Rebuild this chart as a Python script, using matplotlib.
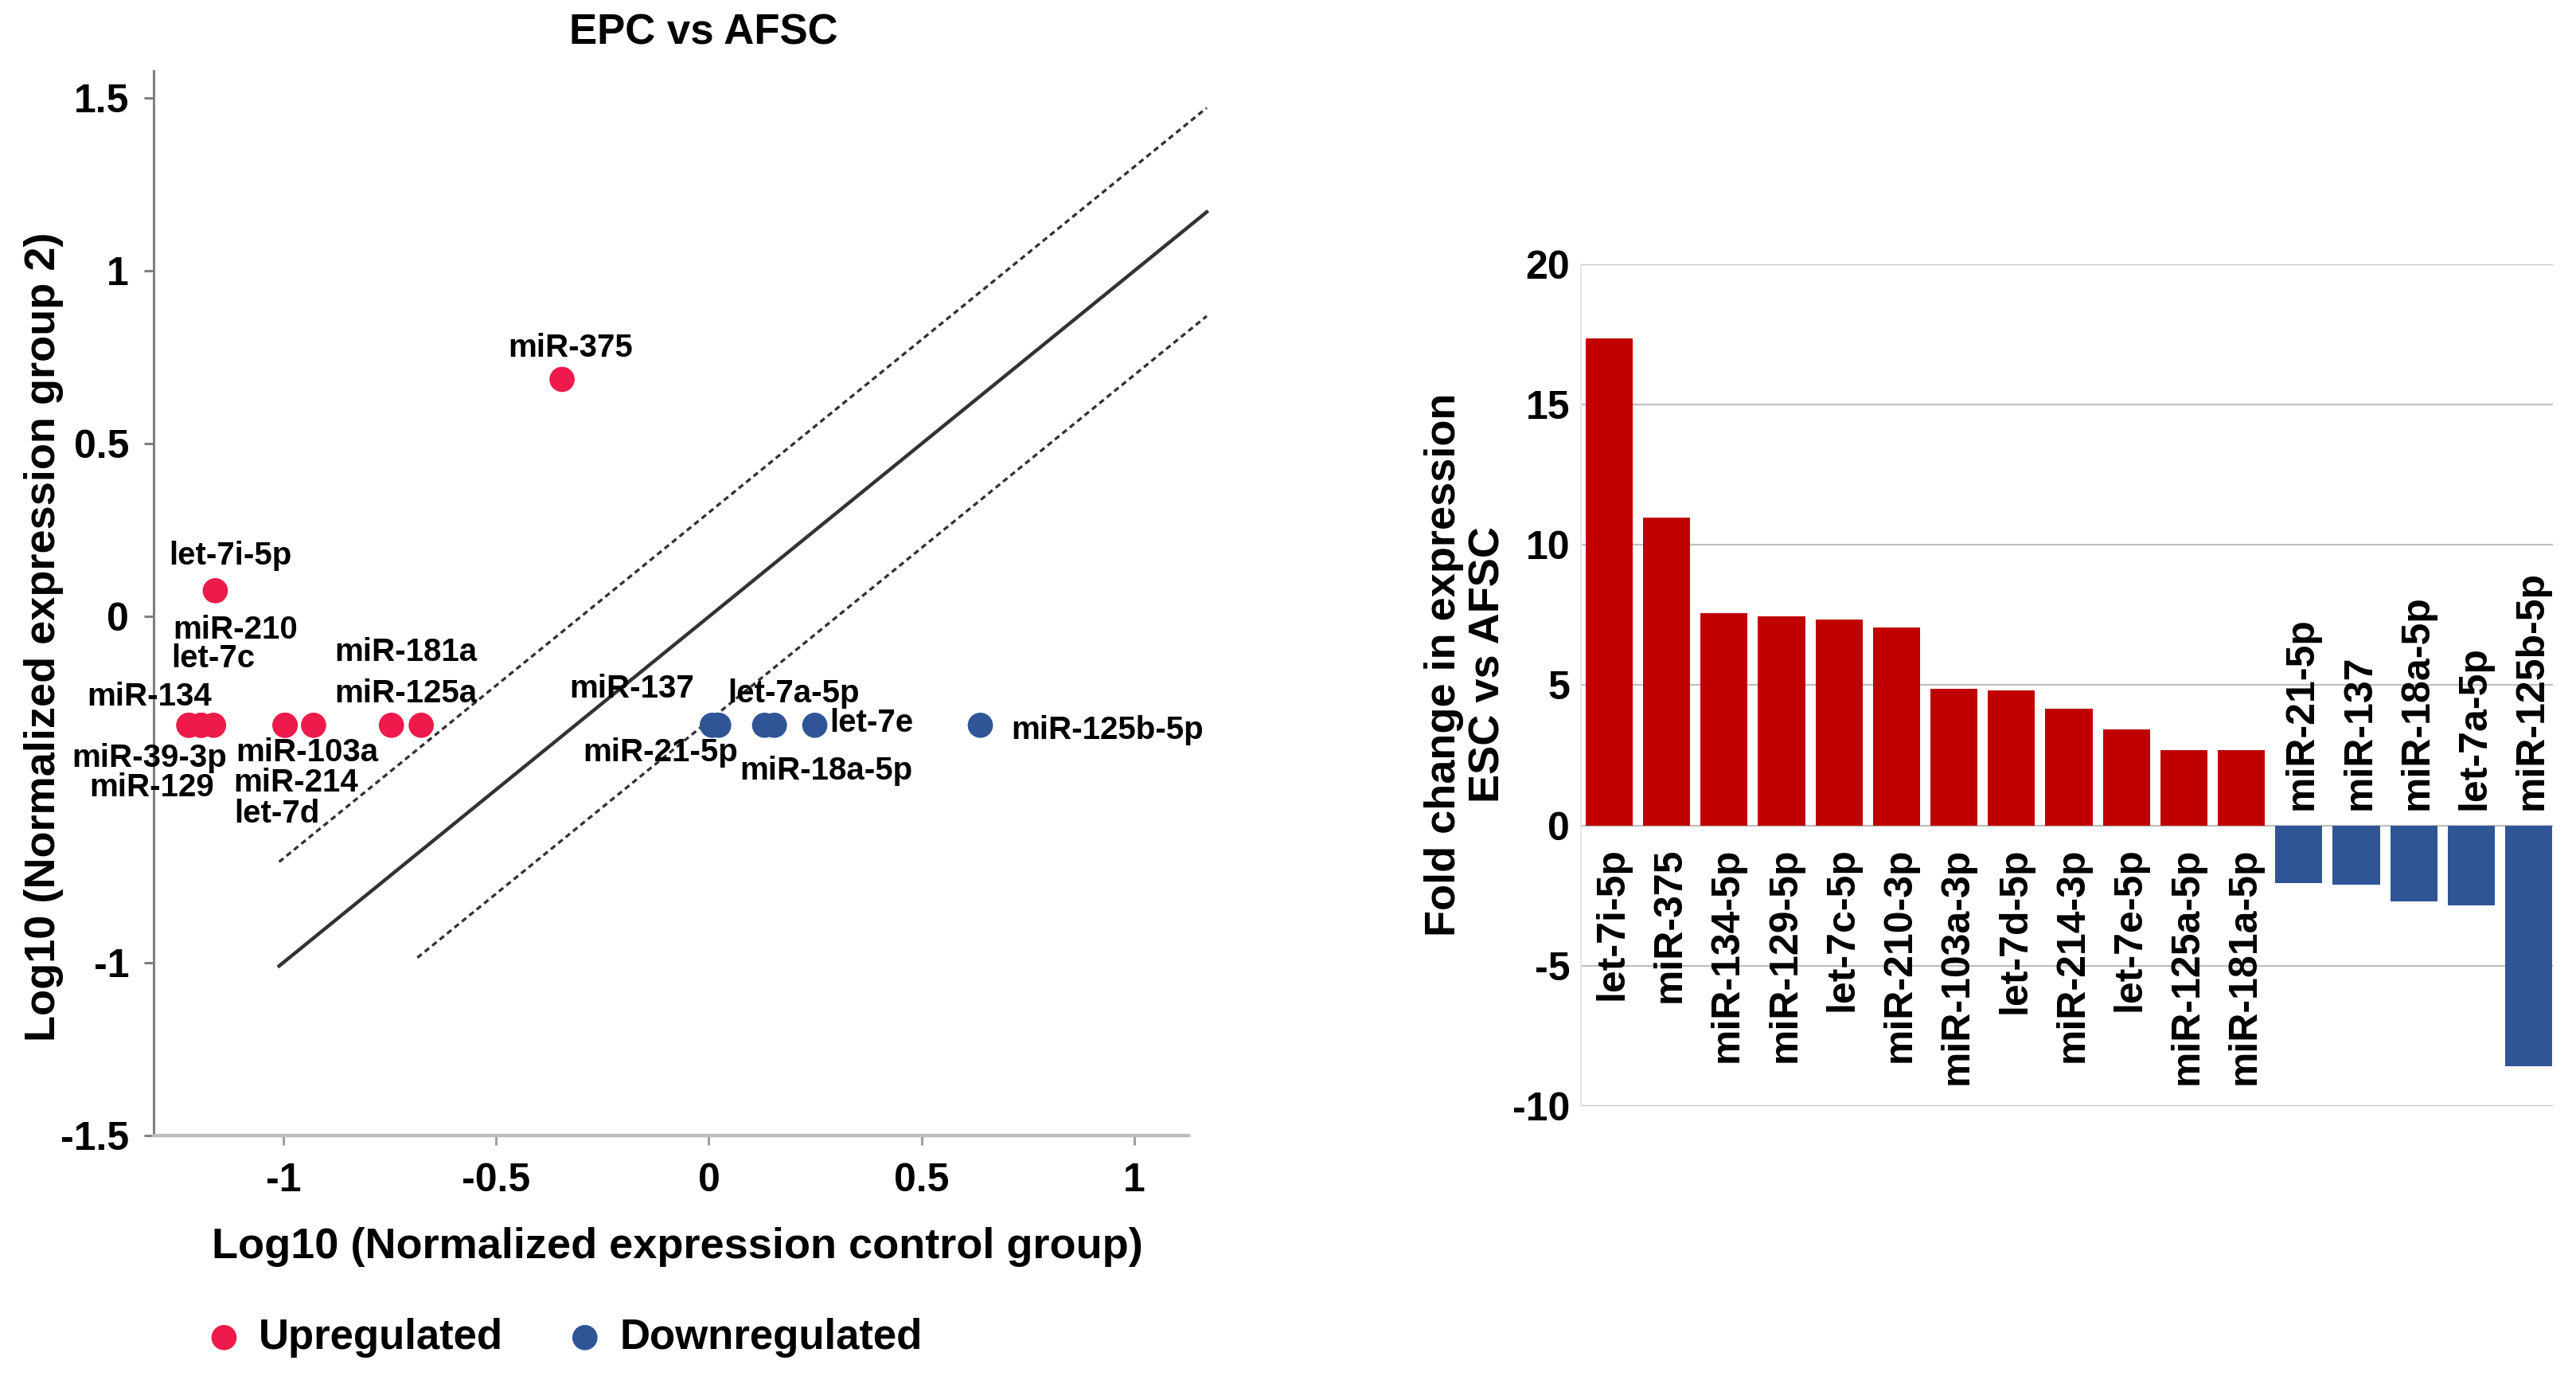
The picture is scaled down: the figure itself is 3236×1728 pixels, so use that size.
import matplotlib
matplotlib.use("Agg")
import matplotlib.pyplot as plt

plt.rcParams['font.family'] = ['Liberation Sans', 'DejaVu Sans']
plt.rcParams['font.weight'] = 'bold'
plt.rcParams['axes.unicode_minus'] = False

RED = '#ED1A4B'
BLUE = '#2F5597'
BAR_RED = '#C00000'

# scatter data (log10 normalized expression)
up_names = ['let-7i-5p', 'miR-375', 'miR-210', 'let-7c', 'miR-134', 'miR-39-3p',
            'miR-129', 'miR-103a', 'miR-214', 'let-7d', 'miR-181a', 'miR-125a']
up_x = [-1.16, -0.345, -1.164, -1.193, -1.222, -1.222,
        -1.193, -0.996, -0.929, -0.996, -0.676, -0.746]
up_y = [0.075, 0.686, -0.314, -0.314, -0.314, -0.314,
        -0.314, -0.314, -0.314, -0.314, -0.314, -0.314]

down_names = ['miR-137', 'miR-21-5p', 'let-7a-5p', 'miR-18a-5p', 'let-7e', 'miR-125b-5p']
down_x = [0.008, 0.023, 0.131, 0.154, 0.249, 0.638]
down_y = [-0.314, -0.314, -0.314, -0.314, -0.314, -0.314]

# reference lines y = x and y = x +/- log10(2)
fold_shift = 0.301
line_x = [-1.01, 1.17]
lower_x = [-0.685, 1.17]

# label positions (data coords, layout only)
label_pos = {
    'let-7i-5p': (-1.125, 0.176), 'miR-375': (-0.326, 0.776),
    'miR-210': (-1.112, -0.039), 'let-7c': (-1.164, -0.122),
    'miR-134': (-1.314, -0.231), 'miR-39-3p': (-1.314, -0.409),
    'miR-129': (-1.31, -0.495), 'miR-103a': (-0.944, -0.392),
    'miR-214': (-0.971, -0.48), 'let-7d': (-1.015, -0.57),
    'miR-181a': (-0.713, -0.103), 'miR-125a': (-0.713, -0.223),
    'miR-137': (-0.181, -0.208), 'miR-21-5p': (-0.114, -0.392),
    'let-7a-5p': (0.2, -0.223), 'miR-18a-5p': (0.276, -0.446),
    'let-7e': (0.382, -0.308), 'miR-125b-5p': (0.936, -0.329),
}

# bar data
bar_names = ['let-7i-5p', 'miR-375', 'miR-134-5p', 'miR-129-5p', 'let-7c-5p', 'miR-210-3p',
             'miR-103a-3p', 'let-7d-5p', 'miR-214-3p', 'let-7e-5p', 'miR-125a-5p', 'miR-181a-5p',
             'miR-21-5p', 'miR-137', 'miR-18a-5p', 'let-7a-5p', 'miR-125b-5p']
bar_values = [17.35, 10.98, 7.57, 7.44, 7.33, 7.07,
              4.88, 4.82, 4.16, 3.43, 2.69, 2.69,
              -2.06, -2.10, -2.71, -2.84, -8.57]

fig = plt.figure(figsize=(16.185, 8.64), dpi=200, facecolor='white')

# ---------------- left: scatter ----------------
ax = fig.add_axes([0.0596, 0.1748, 0.4016, 0.7737])
ax.set_xlim(-1.305, 1.127)
ax.set_ylim(-1.5, 1.578)

ax.plot(line_x, line_x, color='#333333', lw=1.6, clip_on=False, zorder=2)
ax.plot(line_x, [v + fold_shift for v in line_x], color='#333333', lw=1.2,
        dashes=(2.1, 1.5), clip_on=False, zorder=2)
ax.plot(lower_x, [v - fold_shift for v in lower_x], color='#333333', lw=1.2,
        dashes=(2.1, 1.5), clip_on=False, zorder=2)

ax.scatter(up_x, up_y, s=130, color=RED, edgecolors='none', zorder=3, label='Upregulated')
ax.scatter(down_x, down_y, s=130, color=BLUE, edgecolors='none', zorder=3, label='Downregulated')

for name in up_names + down_names:
    lx, ly = label_pos[name]
    ax.text(lx, ly, name, fontsize=14.5, fontweight='bold', ha='center', va='center', zorder=4)

for side in ['top', 'right']:
    ax.spines[side].set_visible(False)
ax.spines['left'].set_color('#808080')
ax.spines['left'].set_linewidth(1.1)
ax.spines['bottom'].set_color('#BDBDBD')
ax.spines['bottom'].set_linewidth(1.6)

ax.set_yticks([-1.5, -1, 0, 0.5, 1, 1.5])
ax.set_yticklabels(['-1.5', '-1', '0', '0.5', '1', '1.5'])
ax.set_xticks([-1, -0.5, 0, 0.5, 1])
ax.set_xticklabels(['-1', '-0.5', '0', '0.5', '1'])
ax.tick_params(axis='y', length=4.3, width=1.1, color='#808080', pad=6.8, labelsize=18)
ax.tick_params(axis='x', length=4.3, width=1.1, color='#A0A0A0', pad=8, labelsize=18)

fig.text(0.273, 0.976, 'EPC vs AFSC', fontsize=19, fontweight='bold', ha='center', va='center')
fig.text(0.263, 0.094, 'Log10 (Normalized expression control group)', fontsize=19.5,
         fontweight='bold', ha='center', va='center')
fig.text(0.017, 0.537, 'Log10 (Normalized expression group 2)', fontsize=19.5,
         fontweight='bold', ha='center', va='center', rotation=90)

handles, labels = ax.get_legend_handles_labels()
fig.legend(handles, labels, loc='center left', bbox_to_anchor=(0.0788, 0.028), ncol=2,
           frameon=False, fontsize=19, handlelength=1.0, handletextpad=0.32,
           columnspacing=1.45, borderpad=0, borderaxespad=0, markerscale=1.0)

# ---------------- right: bars ----------------
bx = fig.add_axes([0.6135, 0.1962, 0.3772, 0.6117])
xs = list(range(len(bar_names)))
colors = [BAR_RED if v > 0 else BLUE for v in bar_values]
bx.bar(xs, bar_values, width=0.82, color=colors, zorder=3)
bx.set_xlim(-0.493, 16.42)
bx.set_ylim(-10, 20)
bx.set_yticks([-10, -5, 0, 5, 10, 15, 20])
bx.yaxis.grid(True, color='#BFBFBF', lw=0.8, zorder=0)
bx.set_axisbelow(True)
bx.set_xticks([])
bx.tick_params(axis='y', length=0, pad=5, labelsize=18)
for side in ['top', 'right', 'bottom']:
    bx.spines[side].set_visible(False)
bx.spines['left'].set_color('#E6E6E6')
bx.spines['left'].set_linewidth(0.8)

for x, name, v in zip(xs, bar_names, bar_values):
    if v > 0:
        bx.annotate(name, (x, 0), xytext=(1.5, -10), textcoords='offset points',
                    rotation=90, ha='center', va='top', fontsize=18, fontweight='bold')
    else:
        bx.annotate(name, (x, 0), xytext=(1.5, 7), textcoords='offset points',
                    rotation=90, ha='center', va='bottom', fontsize=18, fontweight='bold')

fig.text(0.569, 0.517, 'Fold change in expression\nESC vs AFSC', fontsize=19.5,
         fontweight='bold', ha='center', va='center', rotation=90, linespacing=1.15,
         multialignment='center')

fig.savefig('out.png', dpi=200, facecolor='white')
